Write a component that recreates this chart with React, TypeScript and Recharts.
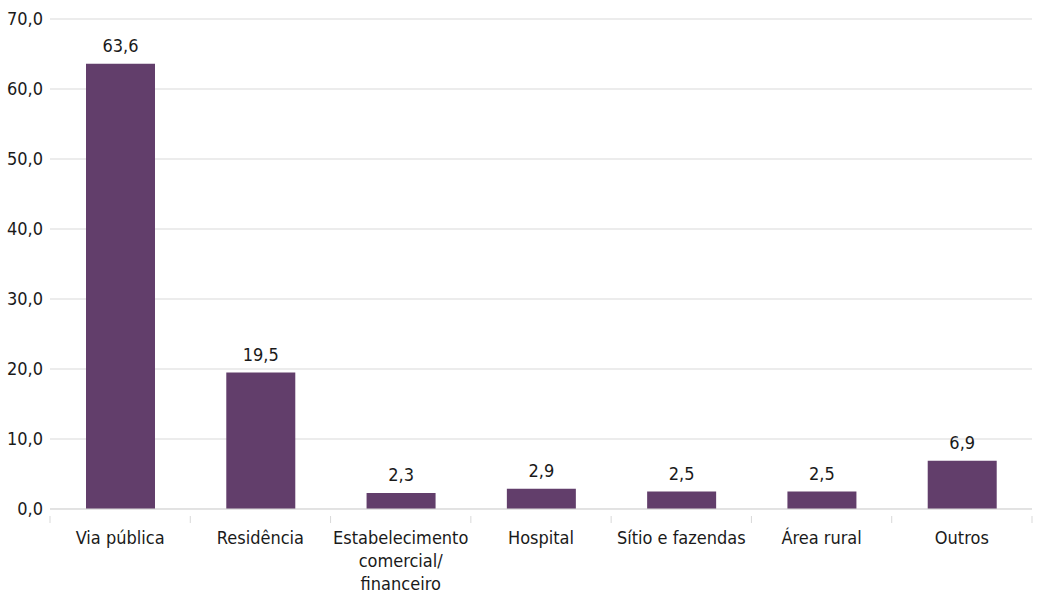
import React from "react";
import { BarChart, Bar, XAxis, YAxis, CartesianGrid, LabelList } from "recharts";

const categories = [
  "Via pública",
  "Residência",
  "Estabelecimento\ncomercial/\nfinanceiro",
  "Hospital",
  "Sítio e fazendas",
  "Área rural",
  "Outros",
];
const values = [63.6, 19.5, 2.3, 2.9, 2.5, 2.5, 6.9];
const yTicks = [0, 10, 20, 30, 40, 50, 60, 70];

const data = categories.map((c, i) => ({ name: c, value: values[i] }));

const W = 1037;
const H = 601;
const MARGIN = { top: 19, right: 5, left: 0, bottom: 0 };
const Y_WIDTH = 50;
const BAND = (W - MARGIN.left - MARGIN.right - Y_WIDTH) / categories.length;
const FONT = "'DejaVu Sans Condensed', 'Liberation Sans Narrow', 'Roboto', sans-serif";
const FS = 18;
const fmt = (v: number) => v.toFixed(1).replace(".", ",");

const XTick = (props: any) => {
  const { x, y, payload, index } = props;
  const lines = String(payload.value).split("\n");
  const left = x - BAND / 2;
  const right = x + BAND / 2;
  return (
    <g>
      <line x1={left} y1={y - 1} x2={left} y2={y + 6} stroke="#d9d9d9" strokeWidth={1} />
      {index === categories.length - 1 && (
        <line x1={right} y1={y - 1} x2={right} y2={y + 6} stroke="#d9d9d9" strokeWidth={1} />
      )}
      <text x={x} y={y + 27} textAnchor="middle" fill="#1a1a1a" fontSize={FS} fontFamily={FONT}>
        {lines.map((l, i) => (
          <tspan key={i} x={x} dy={i === 0 ? 0 : 23}>
            {l}
          </tspan>
        ))}
      </text>
    </g>
  );
};

export default function App() {
  return (
    <div style={{ position: "absolute", left: 0, top: 0, width: W, height: H, background: "#fff" }}>
      <BarChart width={W} height={H} data={data} margin={MARGIN}>
        <CartesianGrid vertical={false} stroke="#d9d9d9" />
        <XAxis
          dataKey="name"
          interval={0}
          tick={<XTick />}
          tickLine={false}
          axisLine={{ stroke: "#d9d9d9" }}
          height={92}
        />
        <YAxis
          domain={[0, 70]}
          ticks={yTicks}
          width={Y_WIDTH}
          tickFormatter={fmt}
          axisLine={false}
          tickLine={false}
          tickSize={0}
          tickMargin={7}
          tick={{ fill: "#1a1a1a", fontSize: FS, fontFamily: FONT }}
        />
        <Bar dataKey="value" fill="#623e6b" barSize={69} isAnimationActive={false}>
          <LabelList
            dataKey="value"
            position="top"
            offset={12}
            formatter={(v: any) => fmt(Number(v))}
            style={{ fill: "#1a1a1a", fontSize: FS, fontFamily: FONT }}
          />
        </Bar>
      </BarChart>
    </div>
  );
}
